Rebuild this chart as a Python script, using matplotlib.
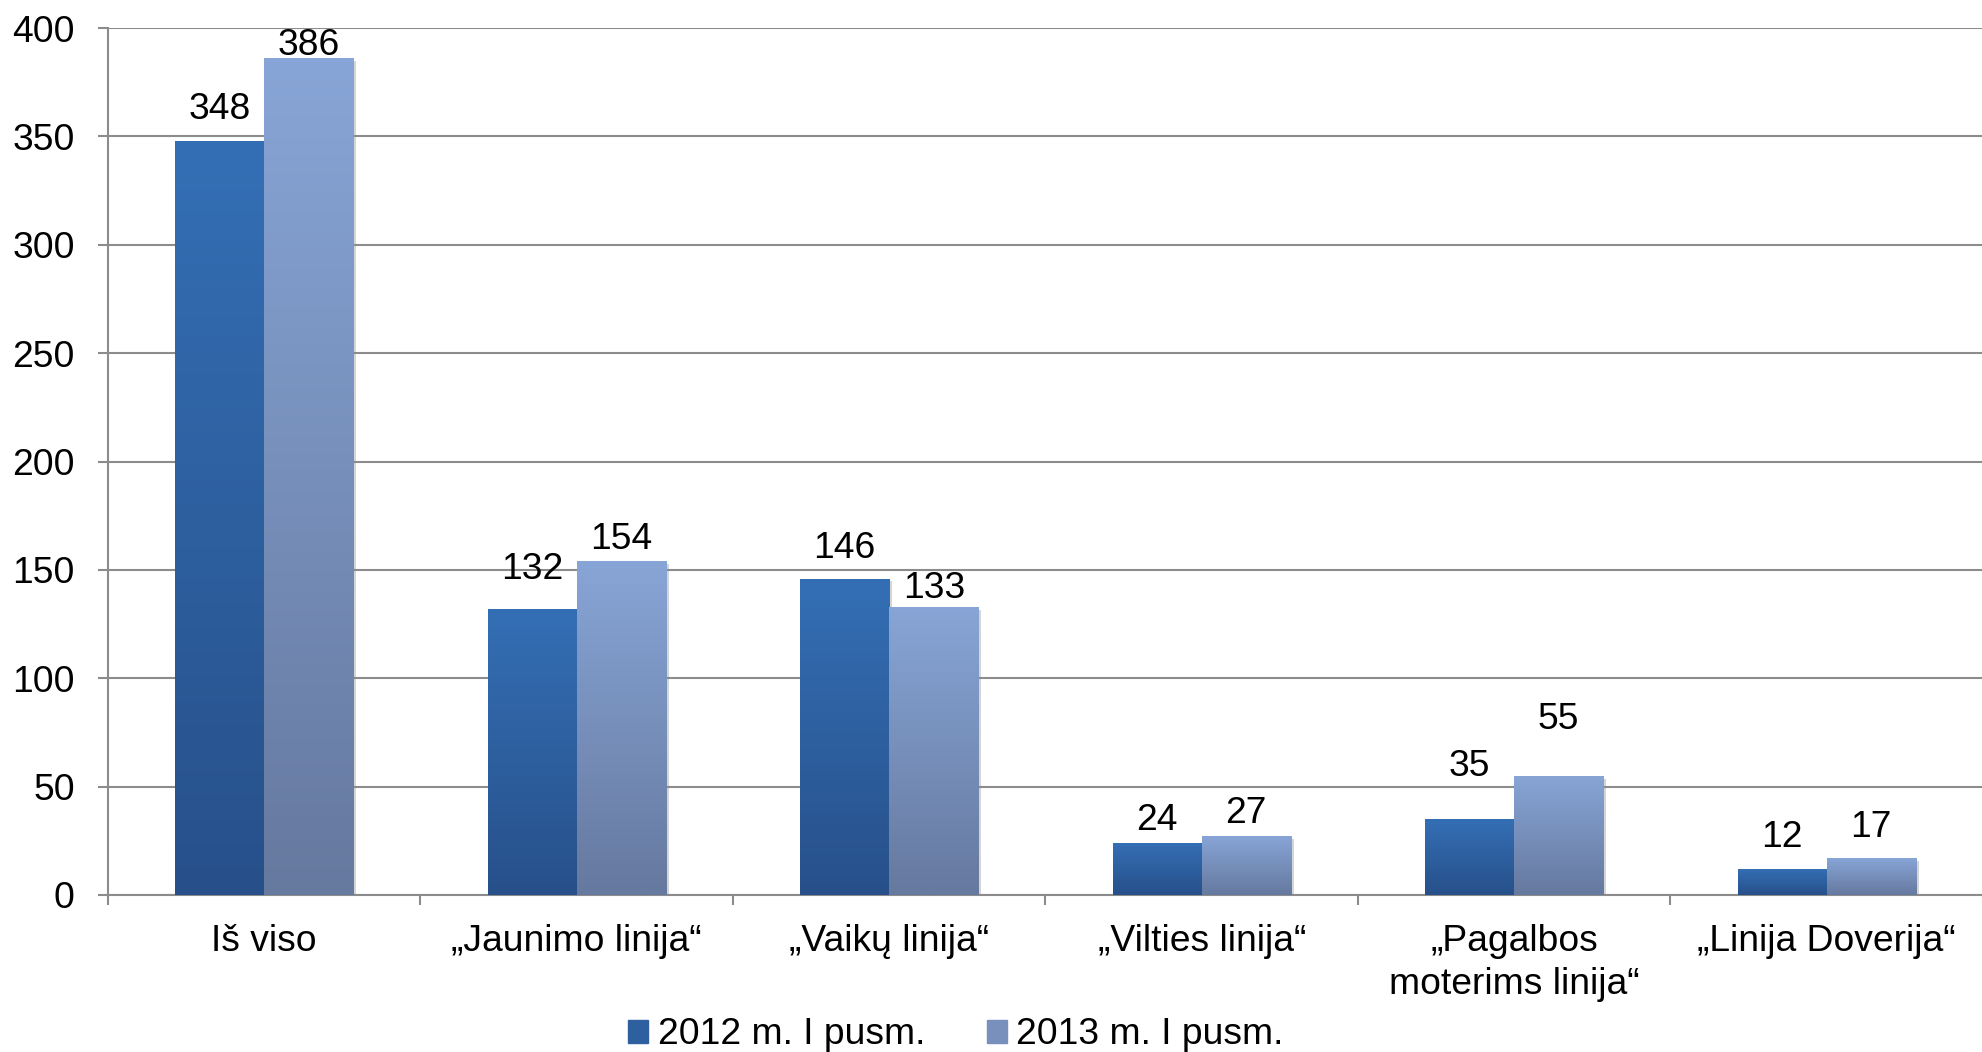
import matplotlib
matplotlib.use("Agg")
import matplotlib.pyplot as plt
import matplotlib.patheffects as pe
from matplotlib.colors import LinearSegmentedColormap
import numpy as np

# data
categories = ["Iš viso", "„Jaunimo linija“", "„Vaikų linija“", "„Vilties linija“",
              "„Pagalbos\nmoterims linija“", "„Linija Doverija“"]
series_names = ["2012 m. I pusm.", "2013 m. I pusm."]
values_2012 = [348, 132, 146, 24, 35, 12]
values_2013 = [386, 154, 133, 27, 55, 17]
yticks = [0, 50, 100, 150, 200, 250, 300, 350, 400]

# label offsets above the bar top (pixels), as placed in the original
label_off_2012 = [31, 39, 30, 22, 53, 31]
label_off_2013 = [13, 22, 18, 23, 56, 31]

# gradient colours (top, bottom) for each series
grad_2012 = ("#346fb5", "#27508a")
grad_2013 = ("#87a5d6", "#66799f")

plt.rcParams["font.family"] = ["Liberation Sans", "DejaVu Sans"]
FS = 26.8
GRID = "#8c8c8c"

fig = plt.figure(figsize=(19.83, 10.52), dpi=100)
ax = fig.add_axes([108 / 1983, 1 - 895 / 1052, 1 - 108 / 1983, (895 - 28) / 1052])

x = np.arange(len(categories))
w = 0.285


def gradient_bars(xpos, vals, colors, label):
    bars = ax.bar(xpos, vals, width=w, color=colors[0], label=label, zorder=3,
                  linewidth=0)
    cmap = LinearSegmentedColormap.from_list("g", [colors[1], colors[0]])
    grad = np.linspace(0, 1, 256).reshape(-1, 1)
    for b in bars:
        b.set_path_effects([pe.SimplePatchShadow(offset=(2, -2), shadow_rgbFace="#888888",
                                                 alpha=0.35), pe.Normal()])
        x0, y0 = b.get_x(), b.get_y()
        im = ax.imshow(grad, cmap=cmap, origin="lower", aspect="auto",
                       extent=(x0, x0 + b.get_width(), y0, y0 + b.get_height()),
                       zorder=3.5, interpolation="bilinear")
        im.set_clip_path(b)
    return bars


b1 = gradient_bars(x - w / 2, values_2012, grad_2012, series_names[0])
b2 = gradient_bars(x + w / 2, values_2013, grad_2013, series_names[1])

for bars, vals, offs in [(b1, values_2012, label_off_2012), (b2, values_2013, label_off_2013)]:
    for b, v, o in zip(bars, vals, offs):
        ax.annotate(str(v), (b.get_x() + b.get_width() / 2, v), xytext=(0, o),
                    textcoords="offset pixels", ha="center", va="center",
                    fontsize=FS, zorder=5)

ax.set_xlim(-0.5, len(categories) - 0.5)
ax.set_ylim(0, 400)
ax.set_yticks(yticks)
ax.yaxis.grid(True, color=GRID, linewidth=1.5, zorder=0)
ax.set_axisbelow(True)

ax.set_xticks(np.arange(-0.5, len(categories), 1.0))
ax.set_xticklabels([])
ax.set_xticks(x, minor=True)
ax.set_xticklabels(categories, minor=True, fontsize=FS, linespacing=1.3)
ax.tick_params(axis="x", which="major", length=7, width=1.5, color=GRID, direction="out")
ax.tick_params(axis="x", which="minor", length=0, pad=21)
ax.tick_params(axis="y", length=7, width=1.5, color=GRID, labelsize=FS, pad=17)

for s in ["top", "right"]:
    ax.spines[s].set_visible(False)
for s in ["left", "bottom"]:
    ax.spines[s].set_color(GRID)
    ax.spines[s].set_linewidth(1.5)

# legend handles take the middle tone of each gradient
h1 = plt.Rectangle((0, 0), 1, 1, color="#2e5f9f")
h2 = plt.Rectangle((0, 0), 1, 1, color="#7890bb")
leg = fig.legend(handles=[h1, h2], labels=series_names, loc="center", ncol=2,
                 bbox_to_anchor=(0.482, 1 - 1035 / 1052), frameon=False, fontsize=FS,
                 handlelength=0.55, handleheight=0.55, handletextpad=0.25, columnspacing=1.65)

fig.savefig("out.png", dpi=100)
